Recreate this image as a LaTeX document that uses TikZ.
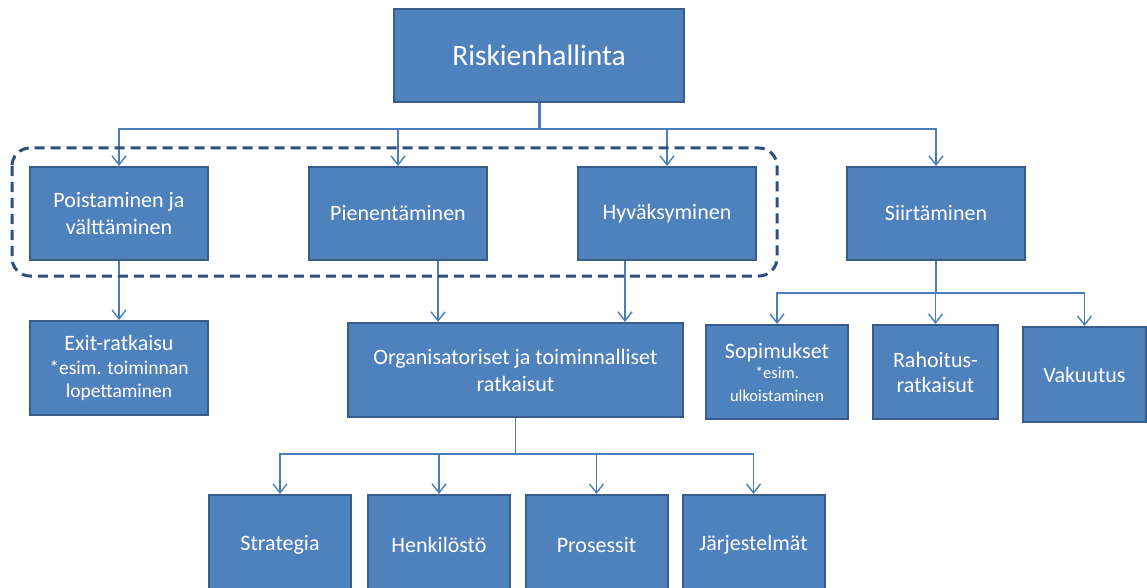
\documentclass[tikz,border=0pt]{standalone}
\usepackage{fontspec}
\setmainfont{Carlito}
\usetikzlibrary{arrows.meta}
\definecolor{boxfill}{HTML}{4F81BD}
\definecolor{boxline}{HTML}{385D8A}
\definecolor{conncol}{HTML}{4A7EBB}
\definecolor{dashcol}{HTML}{2F4E78}
\begin{document}
\begin{tikzpicture}[x=1pt,y=-1pt,
  box/.style={draw=boxline, line width=2pt, fill=boxfill, text=white, align=center,
    inner sep=2pt, font=\fontsize{22}{27}\selectfont},
  conn/.style={draw=conncol, line width=1.5pt,
    -{Straight Barb[length=9pt,width=14pt,line width=1.4pt]}},
  link/.style={draw=conncol, line width=1.5pt},
  group/.style={draw=dashcol, line width=3pt, dash pattern=on 10pt off 6pt,
    rounded corners=18pt}]
\useasboundingbox (0,0) rectangle (1147,588);
\fill[white] (0,0) rectangle (1147,588);

% top
\node[box, minimum width=290, minimum height=93, font=\fontsize{29.5}{34}\selectfont]
  (top) at (539,55.5) {Riskienhallinta};

% row 2
\node[box, minimum width=178, minimum height=93] (poist) at (119,213.5) {Poistaminen ja\\välttäminen};
\node[box, minimum width=178, minimum height=93] (pien) at (398,213.5) {Pienentäminen};
\node[box, minimum width=178, minimum height=93] (hyv) at (667,213.5) {Hyväksyminen};
\node[box, minimum width=178, minimum height=93] (siirt) at (936,213.5) {Siirtäminen};

% row 3
\node[box, minimum width=178, minimum height=94, font=\fontsize{19.5}{23.5}\selectfont]
  (exit) at (119,368) {{\fontsize{22}{23.5}\selectfont Exit-ratkaisu}\\*esim. toiminnan\\lopettaminen};
\node[box, minimum width=335, minimum height=94] (org) at (515.5,370)
  {Organisatoriset ja toiminnalliset\\ratkaisut};
\node[box, minimum width=142, minimum height=94, font=\fontsize{16.5}{20}\selectfont]
  (sop) at (777,372) {{\fontsize{22}{22}\selectfont Sopimukset}\\*esim.\\[3pt]ulkoistaminen};
\node[box, minimum width=125, minimum height=94, font=\fontsize{22}{25}\selectfont]
  (rah) at (935.5,372) {Rahoitus-\\ratkaisut};
\node[box, minimum width=123, minimum height=95] (vak) at (1084.5,374.5) {Vakuutus};

% row 4
\node[box, minimum width=142, minimum height=100] (strat) at (280,545) {Strategia};
\node[box, minimum width=142, minimum height=100] (henk) at (439,545) {Henkilöstö};
\node[box, minimum width=142, minimum height=100] (pros) at (596.5,545) {Prosessit};
\node[box, minimum width=142, minimum height=100] (jarj) at (753.5,545) {Järjestelmät};

% junctions
\coordinate (tj) at (539,129);
\coordinate (sj) at (936,293);
\coordinate (oj) at (515.5,454);

% connectors
\draw[link, line width=3pt] (top.south) -- (tj);
\draw[conn] (tj) -| (poist.north);
\draw[conn] (tj) -| (pien.north);
\draw[conn] (tj) -| (hyv.north);
\draw[conn] (tj) -| (siirt.north);

\draw[conn] (poist.south) -- (exit.north);
\draw[conn] ([xshift=40pt]pien.south) -- ([xshift=40pt]pien.south |- org.north);
\draw[conn] ([xshift=-42pt]hyv.south) -- ([xshift=-42pt]hyv.south |- org.north);

\draw[link] (siirt.south) -- (sj);
\draw[conn] (sj) -| (sop.north);
\draw[conn] (sj) -| (rah.north);
\draw[conn] (sj) -| (vak.north);

\draw[link] (org.south) -- (oj);
\draw[conn] (oj) -| (strat.north);
\draw[conn] (oj) -| (henk.north);
\draw[conn] (oj) -| (pros.north);
\draw[conn] (oj) -| (jarj.north);

% dashed group
\draw[group] (12,148) rectangle (777,276);
\end{tikzpicture}
\end{document}
